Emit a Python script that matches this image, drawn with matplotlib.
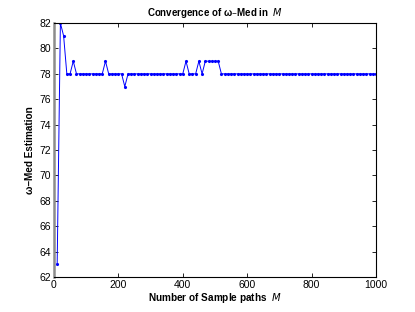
import matplotlib
matplotlib.use("Agg")
import matplotlib.pyplot as plt

# sample path counts and estimated omega-Med values
sample_paths = list(range(10, 1001, 10))
med_values = (
    [63, 82, 81, 78, 78, 79]
    + [78] * 9          # 70..150
    + [79]              # 160
    + [78] * 5          # 170..210
    + [77]              # 220
    + [78] * 18         # 230..400
    + [79]              # 410
    + [78] * 3          # 420..440
    + [79, 78]          # 450, 460
    + [79] * 5          # 470..510
    + [78] * 49         # 520..1000
)

x_ticks = [0, 200, 400, 600, 800, 1000]
y_ticks = list(range(62, 83, 2))

plt.rcParams["font.family"] = ["Liberation Sans", "DejaVu Sans"]

fig = plt.figure(figsize=(4.15, 3.12), dpi=100)
ax = fig.add_axes([0.130, 0.112, 0.776, 0.814])

ax.plot(sample_paths, med_values, color="#0000ff", linewidth=0.7,
        marker=".", markersize=2.5)

ax.set_xlim(0, 1000)
ax.set_ylim(62, 82)
ax.set_xticks(x_ticks)
ax.set_yticks(y_ticks)
ax.tick_params(direction="in", length=3, width=0.6, labelsize=7.5,
               top=True, right=True, pad=2)
for side in ["top", "right", "bottom"]:
    ax.spines[side].set_linewidth(0.8)
ax.spines["left"].set_color("#8c8c8c")
ax.spines["left"].set_linewidth(1.8)

ax.set_title("Convergence of \u03c9\u2013Med in  $\\mathbf{\\mathit{M}}$",
             fontsize=7, fontweight="bold", pad=5)
ax.set_xlabel("Number of Sample paths  $\\mathbf{\\mathit{M}}$",
              fontsize=7.2, fontweight="bold", labelpad=1)
ax.set_ylabel("\u03c9\u2013Med Estimation", fontsize=7.2, fontweight="bold",
              labelpad=3)

fig.savefig("out.png", dpi=100)
